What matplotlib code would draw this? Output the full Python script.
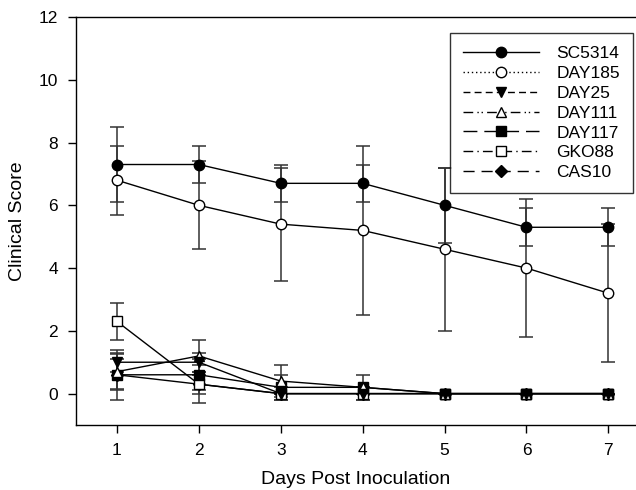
import matplotlib
matplotlib.use("Agg")
import matplotlib.pyplot as plt
from matplotlib.lines import Line2D
import numpy as np

plt.rcParams['font.family'] = ['Liberation Sans', 'DejaVu Sans']

days = [1, 2, 3, 4, 5, 6, 7]
names = ["SC5314", "DAY185", "DAY25", "DAY111", "DAY117", "GKO88", "CAS10"]

sc5314 = [7.3, 7.3, 6.7, 6.7, 6.0, 5.3, 5.3]
sc5314_err = [1.2, 0.6, 0.6, 0.6, 1.2, 0.6, 0.6]
day185 = [6.8, 6.0, 5.4, 5.2, 4.6, 4.0, 3.2]
day185_err = [1.1, 1.4, 1.8, 2.7, 2.6, 2.2, 2.2]
day25 = [1.0, 1.0, 0.0, 0.0, 0.0, 0.0, 0.0]
day25_err = [0.3, 0.3, 0.0, 0.0, 0.0, 0.0, 0.0]
day111 = [0.7, 1.2, 0.4, 0.2, 0.0, 0.0, 0.0]
day111_err = [0.55, 0.5, 0.5, 0.0, 0.0, 0.0, 0.0]
day117 = [0.6, 0.6, 0.2, 0.2, 0.0, 0.0, 0.0]
day117_err = [0.5, 0.5, 0.4, 0.4, 0.0, 0.0, 0.0]
gko88 = [2.3, 0.3, 0.0, 0.0, 0.0, 0.0, 0.0]
gko88_err = [0.6, 0.3, 0.0, 0.0, 0.0, 0.0, 0.0]
cas10 = [0.6, 0.3, 0.0, 0.0, 0.0, 0.0, 0.0]
cas10_err = [0.8, 0.6, 0.2, 0.2, 0.0, 0.0, 0.0]

series = [sc5314, day185, day25, day111, day117, gko88, cas10]
errors = [sc5314_err, day185_err, day25_err, day111_err, day117_err, gko88_err, cas10_err]
markers = ['o', 'o', 'v', '^', 's', 's', 'D']
faces = ['black', 'white', 'black', 'white', 'black', 'white', 'black']
sizes = [7.5, 7.5, 7.5, 7.5, 7, 7, 6.5]
legend_dashes = [(None, None), (1, 2), (5, 3), (7, 3, 1, 2, 1, 3), (10, 5), (7, 3, 1, 3), (8, 5)]

fig = plt.figure(figsize=(6.36, 4.9), dpi=100)
ax = fig.add_axes([76 / 636, 65 / 490, 560 / 636, 408 / 490])

for vals, err in zip(series[::-1], errors[::-1]):
    ax.errorbar(days, vals, yerr=err, fmt='none', ecolor='#333333', elinewidth=1.1,
                capsize=5, capthick=1.1, zorder=2)
for vals, m, fc, ms in zip(series[::-1], markers[::-1], faces[::-1], sizes[::-1]):
    ax.plot(days, vals, color='black', lw=1.0, marker=m, markersize=ms,
            markerfacecolor=fc, markeredgecolor='black', markeredgewidth=1.0, zorder=3)

handles = []
for name, m, fc, ms, d in zip(names, markers, faces, sizes, legend_dashes):
    h = Line2D([0], [0], color='black', lw=1.0, marker=m, markersize=ms,
               markerfacecolor=fc, markeredgecolor='black')
    if d[0] is not None:
        h.set_dashes(d)
    handles.append(h)

leg = ax.legend(handles, names, loc='upper right', bbox_to_anchor=(633 / 636, 1 - 33 / 490),
                bbox_transform=fig.transFigure, borderaxespad=0, fontsize=12.5,
                handlelength=4.4, labelspacing=0.27, borderpad=0.75, handletextpad=1.0,
                fancybox=False, frameon=True, edgecolor='black')
leg.get_frame().set_linewidth(1.0)

ax.set_xlim(0.5, 0.5 + 560 / 81.9)
ax.set_ylim(-1, 12)
ax.set_xticks(days)
ax.set_yticks([0, 2, 4, 6, 8, 10, 12])
ax.tick_params(direction='out', length=6, width=1, labelsize=12.5, pad=7)
ax.spines['right'].set_visible(False)
for s in ['left', 'bottom', 'top']:
    ax.spines[s].set_linewidth(1.0)
ax.set_xlabel("Days Post Inoculation", fontsize=14, labelpad=9)
ax.set_ylabel("Clinical Score", fontsize=14, labelpad=9)

fig.savefig("out.png", dpi=100)
